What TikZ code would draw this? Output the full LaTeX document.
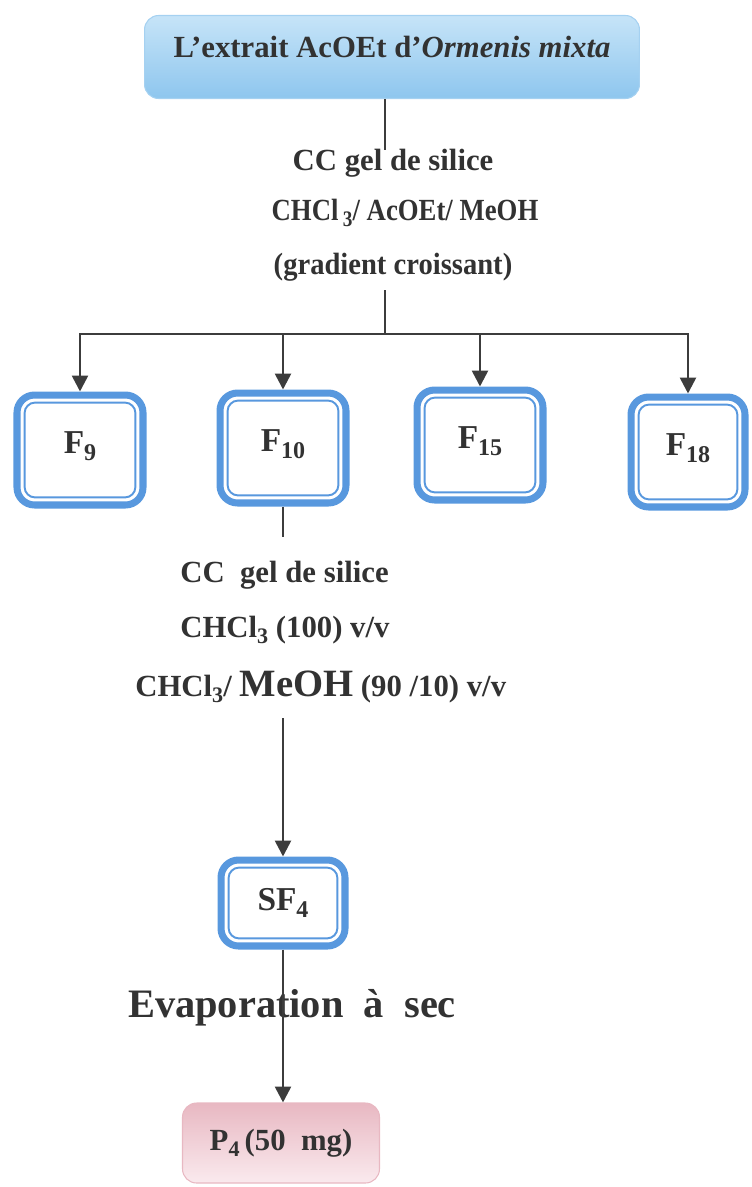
\documentclass[tikz,border=0pt]{standalone}
\usepackage{fontspec}
\setmainfont{Liberation Serif}
\usepackage{graphicx}
\usetikzlibrary{arrows.meta,calc}
\definecolor{cadre}{RGB}{88,152,222}
\definecolor{gristrait}{RGB}{60,60,60}
\definecolor{texte}{RGB}{50,50,50}
\definecolor{bleuA}{RGB}{198,228,248}
\definecolor{bleuB}{RGB}{142,198,238}
\definecolor{roseA}{RGB}{232,184,194}
\definecolor{roseB}{RGB}{250,234,238}
\newcommand{\ind}[1]{\raisebox{-0.45ex}{\scalebox{0.72}{#1}}}
\tikzset{
  titre/.style={draw=bleuB!80, line width=0.6pt, rounded corners=8pt, top color=bleuA, bottom color=bleuB,
    minimum width=9.9cm, minimum height=1.66cm, text depth=.4cm, text=texte,
    font=\fontsize{17.5}{20}\selectfont\bfseries},
  fraction/.style={draw=cadre, line width=4pt, rounded corners=10pt, fill=white,
    minimum width=2.52cm, minimum height=2.2cm, text=texte, font=\fontsize{19}{22}\selectfont\bfseries},
  fhaut/.style={fraction, text depth=.3cm},
  produit/.style={draw=roseA, line width=0.6pt, rounded corners=8pt, top color=roseA, bottom color=roseB,
    minimum width=3.94cm, minimum height=1.6cm, text=texte, font=\fontsize{17.5}{20}\selectfont\bfseries},
  etiq/.style={font=\fontsize{17.5}{20}\selectfont\bfseries, text=texte, inner sep=0pt},
  ligne/.style={gristrait, line width=1.5pt},
  fleche/.style={ligne, -{Triangle[width=9pt,length=9pt]}}
}
\begin{document}
\begin{tikzpicture}[x=0.02cm,y=-0.02cm]
    \useasboundingbox (0,0) rectangle (751,1187);
    % extrait de depart
    \node[titre] (extrait) at (392,57) {L’extrait AcOEt d’\textit{Ormenis mixta}};
    \node[etiq] (cc1) at (393,163) {CC gel de silice};
    \node[etiq] (solv1) at (405,213) {\scalebox{0.87}[1]{CHCl\,\ind{3}/ AcOEt/ MeOH}};
    \node[etiq] (grad) at (393,267) {\scalebox{0.93}[1]{(gradient croissant)}};
    % fractions
    \node[fhaut] (f9) at (80,450) {F\ind{9}};
    \node[fhaut] (f10) at (283,448) {F\ind{10}};
    \node[fhaut] (f15) at (480,445) {F\ind{15}};
    \node[fhaut, minimum width=2.28cm] (f18) at (688,452) {F\ind{18}};
    % seconde colonne sur F10
    \node[etiq, anchor=west] (cc2) at (180,575) {CC\ \ gel de silice};
    \node[etiq, anchor=west] (solv2) at (180,630) {CHCl\ind{3} (100) v/v};
    \node[etiq, anchor=west] (solv3) at (135,687) {CHCl\ind{3}/ {\fontsize{22}{24}\selectfont MeOH} (90 /10) v/v};
    \node[fraction, minimum width=2.48cm, minimum height=1.72cm] (sf4) at (283,903) {SF\ind{4}};
    \node[font=\fontsize{23}{26}\selectfont\bfseries, text=texte, inner sep=0pt] (evap) at (292,1008) {Evaporation\ \ à\ \ sec};
    \node[produit] (p4) at (281,1143) {P\ind{4}\,(50\ \ mg)};
    % filet interieur des cadres
    \foreach \f in {f9,f10,f15,f18,sf4}
        \draw[cadre, line width=1.1pt, rounded corners=6pt] ($(\f.south west)+(6.3pt,6.3pt)$) rectangle ($(\f.north east)-(6.3pt,6.3pt)$);
    % traits et fleches
    \coordinate (h1) at (385,150);
    \coordinate (h2) at (385,290);
    \coordinate (hub) at (385,334);
    \draw[ligne] (extrait.south -| h1) -- (h1);
    \draw[ligne] (h2) -- (hub);
    \foreach \f in {f9,f10,f15,f18}
        \draw[fleche] (hub) -| (\f.north);
    \coordinate (b1) at (283,537);
    \coordinate (b2) at (283,718);
    \draw[ligne] (f10.south) -- (b1);
    \draw[fleche] (b2) -- (sf4.north);
    \draw[fleche] (sf4.south) -- (sf4.south |- p4.north);
\end{tikzpicture}
\end{document}
